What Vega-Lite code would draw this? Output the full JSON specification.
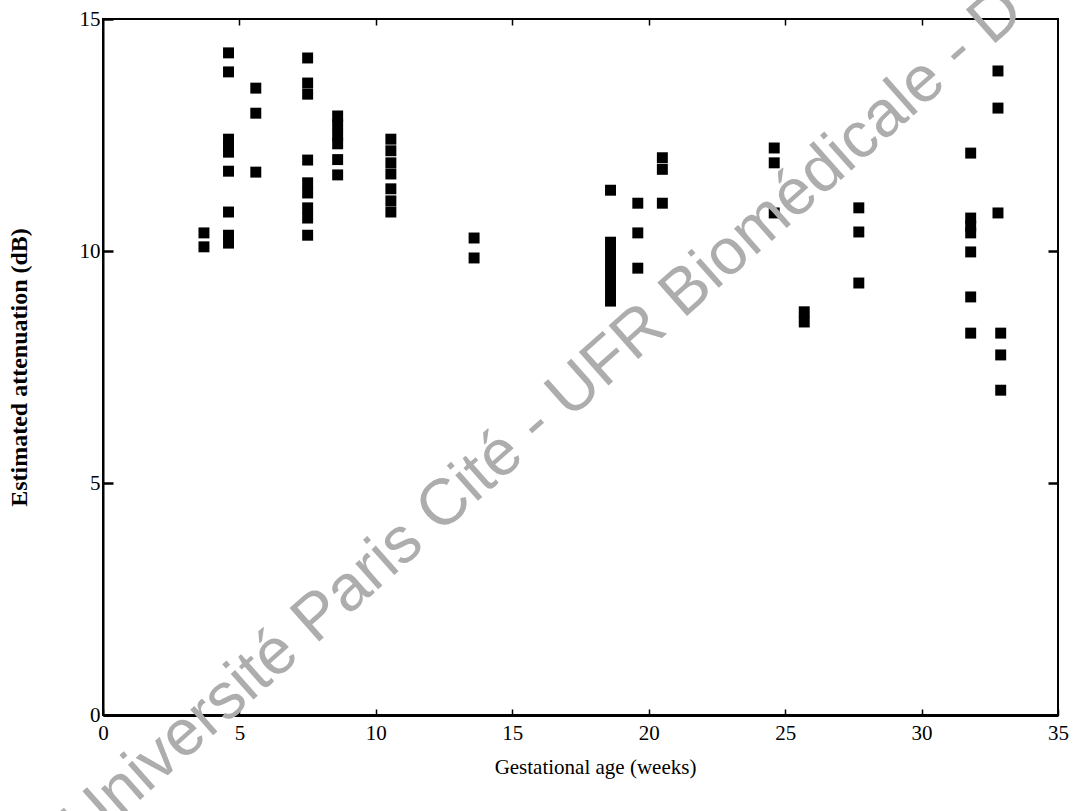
{
  "$schema": "https://vega.github.io/schema/vega-lite/v6.json",
  "autosize": "none",
  "width": 955,
  "height": 696,
  "padding": {"left": 103, "top": 19, "right": 25, "bottom": 96},
  "background": "white",
  "config": {
    "view": {"stroke": "black", "strokeWidth": 2},
    "axis": {
      "grid": false,
      "domainColor": "black",
      "tickColor": "black",
      "labelColor": "black",
      "titleColor": "black",
      "labelFont": "Liberation Serif",
      "titleFont": "Liberation Serif"
    }
  },
  "layer": [
    {
      "data": {
        "values": [
          {"age": 3.7, "att": 10.39}, {"age": 3.7, "att": 10.09},
          {"age": 4.6, "att": 14.27}, {"age": 4.6, "att": 13.86}, {"age": 4.6, "att": 12.41}, {"age": 4.6, "att": 12.26}, {"age": 4.6, "att": 12.13}, {"age": 4.6, "att": 11.72}, {"age": 4.6, "att": 10.84}, {"age": 4.6, "att": 10.34}, {"age": 4.6, "att": 10.17},
          {"age": 5.6, "att": 13.51}, {"age": 5.6, "att": 12.97}, {"age": 5.6, "att": 11.7},
          {"age": 7.5, "att": 14.16}, {"age": 7.5, "att": 13.62}, {"age": 7.5, "att": 13.38}, {"age": 7.5, "att": 11.96}, {"age": 7.5, "att": 11.47}, {"age": 7.5, "att": 11.25}, {"age": 7.5, "att": 10.93}, {"age": 7.5, "att": 10.71}, {"age": 7.5, "att": 10.34},
          {"age": 8.6, "att": 12.91}, {"age": 8.6, "att": 12.72}, {"age": 8.6, "att": 12.5}, {"age": 8.6, "att": 12.31}, {"age": 8.6, "att": 11.97}, {"age": 8.6, "att": 11.64},
          {"age": 10.55, "att": 12.41}, {"age": 10.55, "att": 12.16}, {"age": 10.55, "att": 11.9}, {"age": 10.55, "att": 11.66}, {"age": 10.55, "att": 11.34}, {"age": 10.55, "att": 11.08}, {"age": 10.55, "att": 10.84},
          {"age": 13.6, "att": 10.28}, {"age": 13.6, "att": 9.85},
          {"age": 18.6, "att": 11.31}, {"age": 18.6, "att": 10.19}, {"age": 18.6, "att": 9.98}, {"age": 18.6, "att": 9.76}, {"age": 18.6, "att": 9.55}, {"age": 18.6, "att": 9.33}, {"age": 18.6, "att": 9.12}, {"age": 18.6, "att": 8.92},
          {"age": 19.6, "att": 11.03}, {"age": 19.6, "att": 10.39}, {"age": 19.6, "att": 9.63},
          {"age": 20.5, "att": 12.01}, {"age": 20.5, "att": 11.76}, {"age": 20.5, "att": 11.03},
          {"age": 24.6, "att": 12.22}, {"age": 24.6, "att": 11.9}, {"age": 24.6, "att": 10.82},
          {"age": 25.7, "att": 8.69}, {"age": 25.7, "att": 8.47},
          {"age": 27.7, "att": 10.93}, {"age": 27.7, "att": 10.41}, {"age": 27.7, "att": 9.31},
          {"age": 31.8, "att": 12.11}, {"age": 31.8, "att": 10.71}, {"age": 31.8, "att": 10.54}, {"age": 31.8, "att": 10.39}, {"age": 31.8, "att": 9.98}, {"age": 31.8, "att": 9.01}, {"age": 31.8, "att": 8.23},
          {"age": 32.8, "att": 13.88}, {"age": 32.8, "att": 13.08}, {"age": 32.8, "att": 10.82}, {"age": 32.9, "att": 8.23}, {"age": 32.9, "att": 7.76}, {"age": 32.9, "att": 7.0}
        ]
      },
      "mark": {"type": "point", "shape": "square", "filled": true, "color": "black", "size": 120, "opacity": 1},
      "encoding": {
        "x": {
          "field": "age", "type": "quantitative",
          "scale": {"domain": [0, 35], "nice": false, "zero": true},
          "axis": {
            "values": [0, 5, 10, 15, 20, 25, 30, 35],
            "title": "Gestational age (weeks)",
            "titleFontSize": 21, "titleFontWeight": "normal",
            "titlePadding": 13, "titleX": 492,
            "labelFontSize": 21, "labelPadding": 13,
            "tickSize": -6, "tickWidth": 1.5,
            "domainWidth": 3,
            "labelFlush": false
          }
        },
        "y": {
          "field": "att", "type": "quantitative",
          "scale": {"domain": [0, 15], "nice": false},
          "axis": {
            "values": [0, 5, 10, 15],
            "title": "Estimated attenuation (dB)",
            "titleFontSize": 24, "titleFontWeight": "bold",
            "titlePadding": 48,
            "labelFontSize": 21, "labelPadding": 13,
            "tickSize": -10, "tickWidth": 2.5,
            "domainWidth": 2,
            "labelFlush": false
          }
        }
      }
    },
    {
      "data": {"values": [{"age": 16.6, "att": 6.1, "label": "Université Paris Cité - UFR Biomédicale - D"}]},
      "mark": {"type": "text", "font": "Liberation Sans", "fontSize": 65, "color": "#adadad", "angle": -41.5, "align": "center", "baseline": "alphabetic"},
      "encoding": {
        "x": {"field": "age", "type": "quantitative", "scale": {"domain": [0, 35], "nice": false},
          "axis": {"orient": "top", "values": [5, 10, 15, 20, 25, 30], "labels": false, "title": null, "tickSize": -6, "tickWidth": 1.5, "domain": false}},
        "y": {"field": "att", "type": "quantitative", "scale": {"domain": [0, 15], "nice": false},
          "axis": {"orient": "right", "values": [5, 10], "labels": false, "title": null, "tickSize": -10, "tickWidth": 2.5, "domain": false}},
        "text": {"field": "label"}
      }
    }
  ],
  "resolve": {"axis": {"x": "independent", "y": "independent"}}
}
